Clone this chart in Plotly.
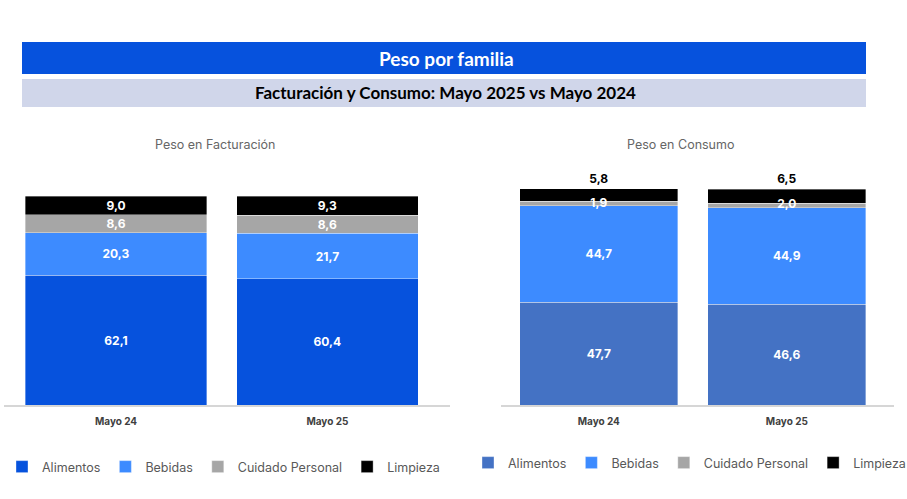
import plotly.graph_objects as go

# Datos
periodos = ["Mayo 24", "Mayo 25"]
familias = ["Alimentos", "Bebidas", "Cuidado Personal", "Limpieza"]

fact_alimentos = [62.1, 60.4]
fact_bebidas = [20.3, 21.7]
fact_cuidado = [8.6, 8.6]
fact_limpieza = [9.0, 9.3]

cons_alimentos = [47.7, 46.6]
cons_bebidas = [44.7, 44.9]
cons_cuidado = [1.9, 2.0]
cons_limpieza = [5.8, 6.5]

W, H = 907, 499

def px_x(p):
    return p / W

def px_y(p):
    return 1 - p / H

colores_fact = ["#0652DD", "#3D8BFF", "#A6A6A6", "#000000"]
colores_cons = ["#4472C4", "#3D8BFF", "#A6A6A6", "#000000"]

fig = go.Figure()

label_font = dict(family="Inter", size=12, color="white", weight="bold")

# --- Peso en Facturación ---
for nombre, vals, col in zip(familias, [fact_alimentos, fact_bebidas, fact_cuidado, fact_limpieza], colores_fact):
    fig.add_trace(go.Bar(
        x=periodos, y=vals, name=nombre, marker=dict(color=col, line=dict(width=0.6, color="rgba(255,255,255,0.6)")),
        width=0.86, texttemplate="%{y:.1f}", textposition="inside", insidetextanchor="middle",
        textfont=label_font, constraintext="none", xaxis="x", yaxis="y", legend="legend",
        hoverinfo="skip",
    ))

# --- Peso en Consumo ---
for nombre, vals, col in zip(familias, [cons_alimentos, cons_bebidas, cons_cuidado, cons_limpieza], colores_cons):
    pos = {"Limpieza": "outside", "Cuidado Personal": "none"}.get(nombre, "inside")
    fig.add_trace(go.Bar(
        x=periodos, y=vals, name=nombre, marker=dict(color=col, line=dict(width=0.6, color="rgba(255,255,255,0.6)")),
        width=0.84, texttemplate="%{y:.1f}", textposition=pos,
        insidetextanchor="middle", textfont=label_font,
        outsidetextfont=dict(family="Inter", size=12, color="black", weight="bold"),
        constraintext="none", cliponaxis=False, xaxis="x2", yaxis="y2", legend="legend2",
        hoverinfo="skip",
    ))

# etiqueta de Cuidado Personal (segmento muy fino) encima de todo
mid_cuidado = [a + b + c / 2 for a, b, c in zip(cons_alimentos, cons_bebidas, cons_cuidado)]
fig.add_trace(go.Scatter(
    x=periodos, y=mid_cuidado, mode="text", text=[f"{v:.1f}".replace(".", ",") for v in cons_cuidado],
    textfont=label_font, showlegend=False, cliponaxis=False, xaxis="x2", yaxis="y2", hoverinfo="skip",
))

axis_common = dict(showline=True, linecolor="#D6D6D6", linewidth=2, ticks="", showgrid=False,
                   ticklabelstandoff=6,
                   tickfont=dict(family="Inter", size=10, color="#404040", weight="bold"))
yaxis_common = dict(showgrid=False, showticklabels=False, zeroline=False, showline=False)

legend_common = dict(orientation="h", yanchor="middle", xanchor="left", bgcolor="rgba(0,0,0,0)",
                     font=dict(family="Inter", size=12.5, color="#595959"), itemwidth=30,
                     itemclick=False, traceorder="normal")

center = dict(xref="paper", yref="paper", showarrow=False, xanchor="center", yanchor="middle")

fig.update_layout(
    width=W, height=H,
    margin=dict(l=0, r=0, t=0, b=0, autoexpand=False),
    paper_bgcolor="white", plot_bgcolor="white",
    barmode="stack",
    separators=",.",
    showlegend=True,
    xaxis=dict(domain=[px_x(4), px_x(450)], range=[-0.53, 1.58], anchor="y", **axis_common),
    yaxis=dict(domain=[px_y(405), px_y(196)], range=[0, 100], anchor="x", **yaxis_common),
    xaxis2=dict(domain=[px_x(501), px_x(894)], range=[-0.52, 1.57], anchor="y2", **axis_common),
    yaxis2=dict(domain=[px_y(405), px_y(187)], range=[0, 101], anchor="x2", **yaxis_common),
    legend=dict(x=px_x(2), y=px_y(467), **legend_common),
    legend2=dict(x=px_x(468), y=px_y(463), **legend_common),
    shapes=[
        dict(type="rect", xref="paper", yref="paper", x0=px_x(22), x1=px_x(866), y0=px_y(74), y1=px_y(42),
             fillcolor="#0652DD", line=dict(width=0), layer="below"),
        dict(type="rect", xref="paper", yref="paper", x0=px_x(22), x1=px_x(866), y0=px_y(107), y1=px_y(79),
             fillcolor="#D0D6EA", line=dict(width=0), layer="below"),
    ],
    annotations=[
        dict(text="Peso por familia", x=px_x(446), y=px_y(58),
             font=dict(family="Lato", size=19, color="white", weight="bold"), **center),
        dict(text="Facturación y Consumo: Mayo 2025 vs Mayo 2024", x=px_x(445), y=px_y(93),
             font=dict(family="Lato", size=17, color="black", weight="bold"), **center),
        dict(text="Peso en Facturación", x=px_x(215), y=px_y(145),
             font=dict(family="Inter", size=12.5, color="#666666"), **center),
        dict(text="Peso en Consumo", x=px_x(680), y=px_y(144),
             font=dict(family="Inter", size=12.5, color="#666666"), **center),
    ],
)

fig.write_html("out.html", config={"displayModeBar": False},
               post_script="document.body.style.margin='0';")
